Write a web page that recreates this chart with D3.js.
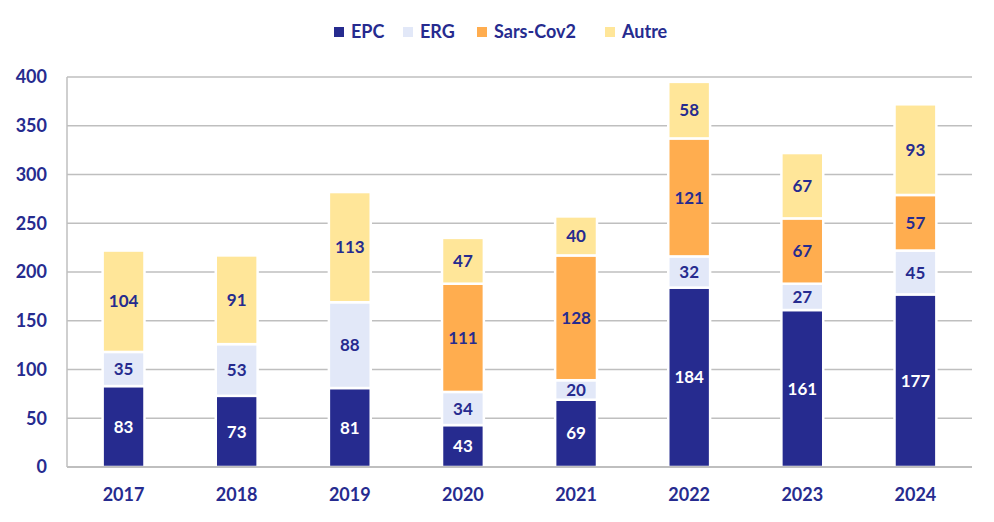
<!DOCTYPE html>
<html>
<head>
<meta charset="utf-8">
<script src="https://cdn.jsdelivr.net/npm/d3@7"></script>
<style>
  body { margin: 0; background: #fff; }
  svg { font-family: Lato, "Open Sans", sans-serif; font-weight: bold; }
</style>
</head>
<body>
<svg id="chart" width="994" height="522"></svg>
<script>
const years = ["2017", "2018", "2019", "2020", "2021", "2022", "2023", "2024"];
const epc = [83, 73, 81, 43, 69, 184, 161, 177];
const erg = [35, 53, 88, 34, 20, 32, 27, 45];
const sars = [0, 0, 0, 111, 128, 121, 67, 57];
const autre = [104, 91, 113, 47, 40, 58, 67, 93];
const seriesNames = ["EPC", "ERG", "Sars-Cov2", "Autre"];
const yTicks = [0, 50, 100, 150, 200, 250, 300, 350, 400];

const colors = ["#262B8F", "#E2E8F8", "#FFAD4F", "#FFE699"];
const textCol = "#262B8F";

const svg = d3.select("#chart");
const margin = { left: 67, right: 22, top: 77, bottom: 55 };
const W = 994, H = 522;

const x = d3.scaleBand().domain(years).range([margin.left, W - margin.right]).paddingInner(0.63).paddingOuter(0.315);
const y = d3.scaleLinear().domain([0, 400]).range([H - margin.bottom, margin.top]);

// grid
svg.append("g")
  .selectAll("line")
  .data(yTicks.slice(1))
  .enter()
  .append("line")
  .attr("x1", margin.left).attr("x2", W - margin.right)
  .attr("y1", d => y(d)).attr("y2", d => y(d))
  .attr("stroke", "#BFBFBF").attr("stroke-width", 1.5);

// left axis line
svg.append("line")
  .attr("x1", margin.left).attr("x2", margin.left)
  .attr("y1", y(400)).attr("y2", y(0))
  .attr("stroke", "#BFBFBF").attr("stroke-width", 1.5);

// y labels
svg.append("g")
  .selectAll("text")
  .data(yTicks)
  .enter()
  .append("text")
  .attr("x", 47).attr("y", d => y(d))
  .attr("dy", "0.36em")
  .attr("text-anchor", "end")
  .attr("font-size", 18)
  .attr("fill", textCol)
  .text(d => d);

// stack
const table = years.map((yr, i) => ({ year: yr, "EPC": epc[i], "ERG": erg[i], "Sars-Cov2": sars[i], "Autre": autre[i] }));
const stacked = d3.stack().keys(seriesNames)(table);

const layers = svg.append("g")
  .selectAll("g")
  .data(stacked)
  .enter()
  .append("g")
  .attr("fill", (d, i) => colors[i]);

layers.selectAll("rect")
  .data(d => d.filter(s => s[1] - s[0] > 0))
  .enter()
  .append("rect")
  .attr("x", d => x(d.data.year))
  .attr("width", x.bandwidth())
  .attr("y", d => y(d[1]))
  .attr("height", d => y(d[0]) - y(d[1]))
  .attr("stroke", "#fff")
  .attr("stroke-width", 2.5);

// baseline
svg.append("line")
  .attr("x1", margin.left).attr("x2", W - margin.right)
  .attr("y1", y(0)).attr("y2", y(0))
  .attr("stroke", "#BFBFBF").attr("stroke-width", 2);

// value labels
stacked.forEach((layer, li) => {
  svg.append("g")
    .selectAll("text")
    .data(layer.filter(s => s[1] - s[0] > 0))
    .enter()
    .append("text")
    .attr("x", d => x(d.data.year) + x.bandwidth() / 2)
    .attr("y", d => y((d[0] + d[1]) / 2))
    .attr("dy", "0.36em")
    .attr("text-anchor", "middle")
    .attr("font-size", 17)
    .attr("fill", li === 0 ? "#fff" : textCol)
    .text(d => d[1] - d[0]);
});

// x labels
svg.append("g")
  .selectAll("text")
  .data(years)
  .enter()
  .append("text")
  .attr("x", d => x(d) + x.bandwidth() / 2)
  .attr("y", 501)
  .attr("text-anchor", "middle")
  .attr("font-size", 18)
  .attr("fill", textCol)
  .text(d => d);

// legend
const legendX = [334, 403, 477, 605];
const legend = svg.append("g")
  .selectAll("g")
  .data(seriesNames)
  .enter()
  .append("g")
  .attr("transform", (d, i) => "translate(" + legendX[i] + ",32)");
legend.append("rect")
  .attr("x", 0).attr("y", -5).attr("width", 10).attr("height", 10)
  .attr("fill", (d, i) => colors[i]);
legend.append("text")
  .attr("x", 17).attr("dy", "0.36em")
  .attr("font-size", 18)
  .attr("fill", textCol)
  .text(d => d);
</script>
</body>
</html>
